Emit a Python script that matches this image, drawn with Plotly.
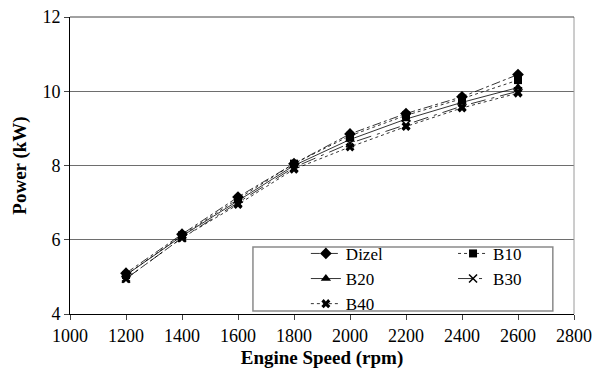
import plotly.graph_objects as go

rpm = [1200, 1400, 1600, 1800, 2000, 2200, 2400, 2600]
dizel = [5.10, 6.15, 7.15, 8.05, 8.85, 9.40, 9.85, 10.45]
b10 = [5.05, 6.12, 7.10, 8.05, 8.80, 9.35, 9.80, 10.30]
b20 = [5.05, 6.10, 7.05, 8.00, 8.70, 9.25, 9.70, 10.10]
b30 = [4.95, 6.05, 7.00, 7.95, 8.60, 9.10, 9.60, 10.00]
b40 = [4.95, 6.05, 6.95, 7.90, 8.50, 9.05, 9.55, 9.95]

x_ticks = [1000, 1200, 1400, 1600, 1800, 2000, 2200, 2400, 2600, 2800]
y_ticks = [4, 6, 8, 10, 12]

FONT = "Liberation Serif"

series = [
    ("Dizel", dizel, "diamond", "dashdot", 9, "legend"),
    ("B10", b10, "square", "dot", 8, "legend2"),
    ("B20", b20, "triangle-up", "solid", 9, "legend"),
    ("B30", b30, "x-thin-open", "longdashdot", 8, "legend2"),
    ("B40", b40, "x", "dot", 8, "legend"),
]

fig = go.Figure()
for name, ys, sym, dash, ms, lg in series:
    fig.add_trace(go.Scatter(
        x=rpm, y=ys, name=name, mode="lines+markers",
        line=dict(color="black", width=0.8, dash=dash),
        marker=dict(symbol=sym, size=ms, color="black",
                    line=dict(color="black", width=1.5 if sym == "x-thin-open" else 0)),
        legend=lg,
    ))

LEG_Y = 0.263
fig.update_layout(
    width=604, height=378,
    margin=dict(l=70, r=30, t=17, b=64),
    paper_bgcolor="white", plot_bgcolor="white",
    font=dict(family=FONT, size=17, color="black"),
    showlegend=True,
    legend=dict(x=0.468, y=LEG_Y, xanchor="left", yanchor="top",
                bgcolor="rgba(0,0,0,0)", borderwidth=0,
                font=dict(family=FONT, size=17), tracegroupgap=0),
    legend2=dict(x=0.76, y=LEG_Y, xanchor="left", yanchor="top",
                 bgcolor="rgba(0,0,0,0)", borderwidth=0,
                 font=dict(family=FONT, size=17), tracegroupgap=0),
    xaxis=dict(range=[1000, 2800], tickvals=x_ticks, ticks="outside", ticklen=5,
               showline=True, linecolor="black", linewidth=1, showgrid=False,
               zeroline=False, automargin=False, tickfont=dict(family=FONT, size=18),
               title=dict(text="<b>Engine Speed (rpm)</b>", font=dict(family=FONT, size=19), standoff=6)),
    yaxis=dict(range=[4, 12], tickvals=y_ticks, ticks="outside", ticklen=5,
               showline=True, linecolor="black", linewidth=1, showgrid=True,
               gridcolor="#6e6e6e", gridwidth=1, zeroline=False, automargin=False,
               tickfont=dict(family=FONT, size=18),
               title=dict(text="<b>Power (kW)</b>", font=dict(family=FONT, size=19), standoff=10)),
    shapes=[
        dict(type="line", xref="paper", yref="paper", x0=1, x1=1, y0=0, y1=1,
             line=dict(color="#9a9a9a", width=1)),
        dict(type="line", xref="paper", yref="paper", x0=0, x1=1, y0=1, y1=1,
             line=dict(color="#444444", width=1)),
        dict(type="rect", xref="paper", yref="paper", x0=0.363, x1=0.958, y0=0.01, y1=0.2256,
             line=dict(color="#8a8a8a", width=1.5), fillcolor="white", layer="above"),
    ],
)
fig.write_html("out.html")
